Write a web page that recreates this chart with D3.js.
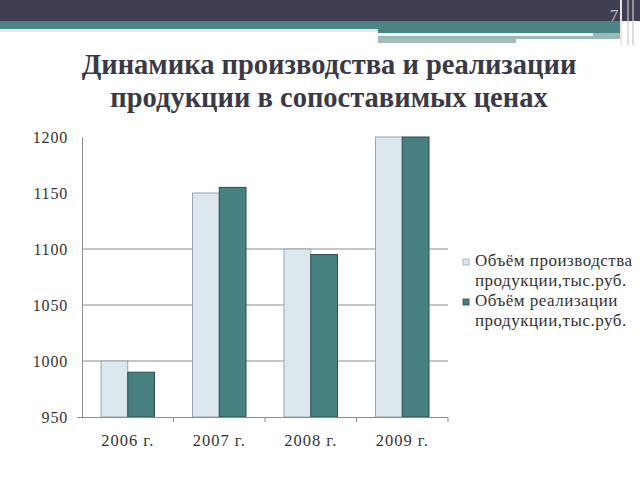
<!DOCTYPE html>
<html><head><meta charset="utf-8">
<script src="https://cdn.jsdelivr.net/npm/d3@7"></script>
<style>body{margin:0;background:#fff}svg{display:block}
svg text{font-family:"Liberation Serif","Times New Roman","DejaVu Serif",serif !important;}
</style>
</head><body>
<svg id="c" width="640" height="480"></svg>
<script>
const categories = ["2006 г.", "2007 г.", "2008 г.", "2009 г."];
const seriesNames = ["Объём производства продукции,тыс.руб.", "Объём реализации продукции,тыс.руб."];
const production = [1000, 1150, 1100, 1200];
const sales = [990, 1155, 1095, 1200];
const yTicks = [950, 1000, 1050, 1100, 1150, 1200];
const gridValues = [1000, 1050, 1100];
const titleLines = ["Динамика производства и реализации", "продукции в сопоставимых ценах"];
const legendLines = [["Объём производства", "продукции,тыс.руб."], ["Объём реализации", "продукции,тыс.руб."]];

const svg = d3.select("#c");

// slide header decoration
svg.append("rect").attr("x",0).attr("y",0).attr("width",640).attr("height",21).attr("fill","#403f52");
svg.append("rect").attr("x",0).attr("y",21).attr("width",622).attr("height",8).attr("fill","#4a8484");
svg.append("rect").attr("x",0).attr("y",29).attr("width",378).attr("height",3).attr("fill","#e4eaea");
svg.append("rect").attr("x",378).attr("y",29).attr("width",244).attr("height",4).attr("fill","#4a8484");
svg.append("rect").attr("x",378).attr("y",33).attr("width",244).attr("height",6).attr("fill","#9cb7b7");
svg.append("rect").attr("x",378).attr("y",33).attr("width",215).attr("height",3).attr("fill","#f4f8f8");
svg.append("rect").attr("x",378).attr("y",39).attr("width",138).attr("height",4).attr("fill","#a9bcbc");
[621, 628, 633].forEach((x,i)=>{
  svg.append("line").attr("x1",x).attr("x2",x).attr("y1",0).attr("y2",45)
    .attr("stroke", i===0 ? "#e6e6e6" : "#c9c9c9").attr("stroke-width", i===0?2:1.2);
});
svg.append("text").attr("x",614).attr("y",21).attr("text-anchor","middle")
  .attr("font-size",17).attr("fill","#c4c4c4").text("7");

// title
svg.selectAll("text.title").data(titleLines).enter().append("text")
  .attr("class","title").attr("x",329).attr("y",(d,i)=>74+i*33)
  .attr("text-anchor","middle").attr("font-weight","bold")
  .attr("font-size",28.5).attr("fill","#3a3a46").text(d=>d);

// chart
const x0 = 82, x1 = 448, yTop = 137, yBot = 417;
const x = d3.scaleBand().domain(categories).range([x0, x1]).paddingInner(0).paddingOuter(0);
const y = d3.scaleLinear().domain([950, 1200]).range([yBot, yTop]);
const groupPad = 19;
const inner = d3.scaleBand().domain([0,1]).range([groupPad, x.bandwidth()-groupPad]);

const g = svg.append("g");
g.selectAll("line.grid").data(gridValues).enter().append("line")
  .attr("x1",x0).attr("x2",x1).attr("y1",d=>y(d)).attr("y2",d=>y(d))
  .attr("stroke","#8c8c8c").attr("stroke-width",1);

const series = [production, sales];
const fills = ["#dde7ee", "#468080"];
const strokes = ["#9aa6ae", "#2d4e4e"];
series.forEach((vals, si) => {
  g.selectAll("rect.s"+si).data(vals).enter().append("rect")
    .attr("x",(d,i)=>x(categories[i]) + inner(si))
    .attr("width", inner.bandwidth())
    .attr("y", d=>y(d)).attr("height", d=>yBot - y(d))
    .attr("fill", fills[si]).attr("stroke", strokes[si]).attr("stroke-width",1);
});

// y axis
const yAxis = d3.axisLeft(y).tickValues(yTicks).tickFormat(d3.format("d")).tickSize(0).tickPadding(14);
const ya = svg.append("g").attr("transform",`translate(${x0},0)`).call(yAxis);
ya.select(".domain").attr("stroke","#8c8c8c");
ya.selectAll("text").attr("font-size",16).attr("letter-spacing",0.8).attr("fill","#333");

// x axis
const xAxis = d3.axisBottom(x).tickSize(0).tickPadding(17);
const xa = svg.append("g").attr("transform",`translate(0,${yBot})`).call(xAxis);
xa.select(".domain").attr("stroke","#8c8c8c").attr("d",`M${x0-5},0.5H${x1}`);
xa.selectAll("text").attr("font-size",16.5).attr("letter-spacing",1).attr("fill","#333");
const bounds = categories.map(c=>x(c)+x.bandwidth());
svg.selectAll("line.xt").data(bounds).enter().append("line")
  .attr("x1",d=>d).attr("x2",d=>d).attr("y1",yBot).attr("y2",yBot+5)
  .attr("stroke","#8c8c8c");

// legend
const lg = svg.append("g");
legendLines.forEach((lines, i) => {
  const top = 259 + i*40;
  lg.append("rect").attr("x",463).attr("y",top).attr("width",6).attr("height",6)
    .attr("fill",fills[i]).attr("stroke",strokes[i]).attr("stroke-width",0.8);
  lines.forEach((t, j) => {
    lg.append("text").attr("x",475).attr("y",top+7+j*20)
      .attr("font-size",17).attr("letter-spacing",0.5).attr("fill","#333").text(t);
  });
});
</script>
</body></html>
